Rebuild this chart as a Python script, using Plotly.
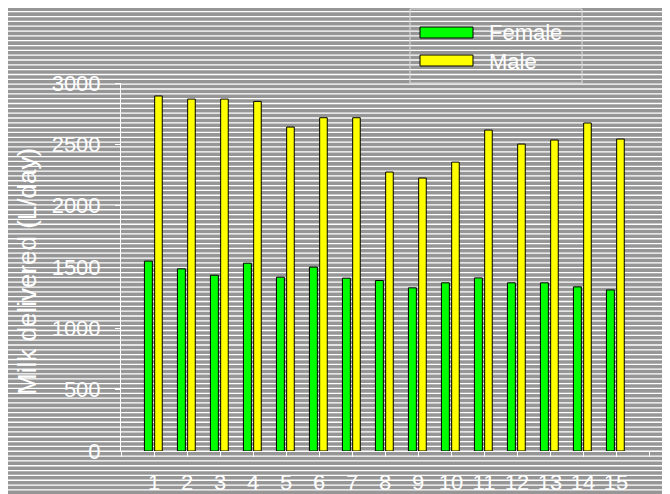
import plotly.graph_objects as go

days = list(range(1, 16))
female = [1548, 1485, 1433, 1531, 1417, 1499, 1409, 1390, 1330, 1371, 1411, 1371, 1371, 1338, 1313]
male = [2894, 2869, 2869, 2850, 2641, 2717, 2717, 2274, 2225, 2355, 2616, 2502, 2535, 2674, 2543]
y_ticks = [0, 500, 1000, 1500, 2000, 2500, 3000]
series_names = ["Female", "Male"]
series_colors = ["#00ff00", "#ffff00"]

# the page places the figure 8px from the top-left corner of the window
OFF = 8
W, H = 670 - OFF, 494 - OFF
L, R, T = 121 - OFF, 670 - 649, 83 - OFF
B = H - (451 - OFF)
PW = W - L - R
PH = H - T - B
FONT = "Liberation Sans, Arial, sans-serif"


def px(x):
    """window pixel x -> paper x"""
    return (x - OFF - L) / PW


def py(y):
    """window pixel y -> paper y"""
    return (H - B - (y - OFF)) / PH


fig = go.Figure()
fig.add_trace(go.Bar(x=days, y=female, name=series_names[0], offset=-0.29, width=0.24,
                     marker=dict(color=series_colors[0], line=dict(color="black", width=1))))
fig.add_trace(go.Bar(x=days, y=male, name=series_names[1], offset=0.02, width=0.23,
                     marker=dict(color=series_colors[1], line=dict(color="black", width=1))))

shapes = []
# gray background
shapes.append(dict(type="rect", xref="paper", yref="paper", x0=px(OFF - 2), x1=px(672),
                   y0=py(OFF - 2), y1=py(496), fillcolor="#969696", line=dict(width=0), layer="below"))
# horizontal white stripes
period = 4.83
k = -18
while True:
    yy = 89 + k * period
    if yy > 496:
        break
    if yy >= OFF:
        shapes.append(dict(type="line", xref="paper", yref="paper", x0=px(OFF - 2), x1=px(672),
                           y0=py(yy), y1=py(yy), line=dict(color="white", width=1.3), layer="below"))
    k += 1

# legend box and swatches
shapes.append(dict(type="rect", xref="paper", yref="paper", x0=px(410), x1=px(582),
                   y0=py(9), y1=py(83), line=dict(color="#dddddd", width=1), fillcolor="rgba(0,0,0,0)"))
sw_y = [(27, 38), (55, 66)]
for (a, b), c in zip(sw_y, series_colors):
    shapes.append(dict(type="rect", xref="paper", yref="paper", x0=px(420), x1=px(473),
                       y0=py(b), y1=py(a), fillcolor=c, line=dict(color="black", width=1)))

annotations = []
for name, yc in zip(series_names, [32.5, 61]):
    annotations.append(dict(text=name, xref="paper", yref="paper", x=px(487), y=py(yc),
                            xanchor="left", yanchor="middle", showarrow=False,
                            font=dict(family=FONT, size=22, color="white")))
annotations.append(dict(text="Milk delivered (L/day)", xref="paper", yref="paper", x=px(27), y=py(272),
                        xanchor="center", yanchor="middle", showarrow=False, textangle=-90,
                        font=dict(family=FONT, size=26, color="white")))

fig.update_layout(
    width=W, height=H,
    margin=dict(l=L, r=R, t=T, b=B, autoexpand=False),
    paper_bgcolor="white",
    plot_bgcolor="rgba(0,0,0,0)",
    barmode="overlay",
    showlegend=False,
    shapes=shapes,
    annotations=annotations,
    font=dict(family=FONT, color="white"),
    xaxis=dict(range=[0, 16], tickvals=list(range(0, 17)),
               ticktext=[""] + [str(d) for d in days] + [""],
               showgrid=False, zeroline=False, showline=True, linecolor="white", linewidth=1,
               ticks="outside", ticklen=5, tickcolor="white", tickwidth=1,
               tickfont=dict(family=FONT, size=22, color="white"), ticklabelstandoff=7),
    yaxis=dict(range=[0, 3000], tickvals=y_ticks, showgrid=False, zeroline=False,
               showline=True, linecolor="white", linewidth=1,
               ticks="outside", ticklen=5, tickcolor="white", tickwidth=1,
               tickfont=dict(family=FONT, size=22, color="white"), ticklabelstandoff=10),
)

fig.write_html("out.html")
